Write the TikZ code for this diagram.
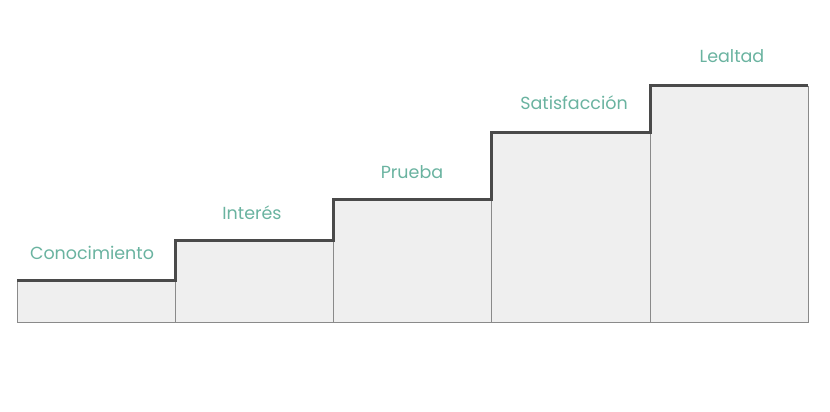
\documentclass[tikz,border=0pt]{standalone}
\usepackage{fontspec}
\setmainfont{Poppins}
\definecolor{teal1}{HTML}{6AB3A0}
\definecolor{boxfill}{HTML}{EFEFEF}
\definecolor{boxline}{HTML}{8A8A8A}
\definecolor{stepline}{HTML}{4A4A4A}
\begin{document}
\begin{tikzpicture}[x=1pt,y=1pt,
  stair/.style={draw=boxline,fill=boxfill,line width=0.8pt},
  lbl/.style={text=teal1,font=\fontsize{17.5}{20}\selectfont,inner sep=0pt},
  edge/.style={draw=stepline,line width=3pt,line cap=butt,line join=miter}]
\useasboundingbox (0,0) rectangle (830,412);
% boxes (y = 412 - pixel y)
\draw[stair] (17,90) rectangle (175,131);
\draw[stair] (175,90) rectangle (333,171);
\draw[stair] (333,90) rectangle (491,212);
\draw[stair] (491,90) rectangle (650,279);
\draw[stair] (650,90) rectangle (808,326);
% step outline
\coordinate (s0) at (17,131);
\coordinate (s1) at (175,131);
\coordinate (s2) at (175,171);
\coordinate (s3) at (333,171);
\coordinate (s4) at (333,212);
\coordinate (s5) at (491,212);
\coordinate (s6) at (491,279);
\coordinate (s7) at (650,279);
\coordinate (s8) at (650,326);
\coordinate (s9) at (808,326);
\draw[edge] (s0) -- (s1) -- (s2) -- (s3) -- (s4) -- (s5) -- (s6) -- (s7) -- (s8) -- (s9);
% labels
\node[lbl] (l1) at (92,159) {Conocimiento};
\node[lbl] (l2) at (252,199) {Interés};
\node[lbl] (l3) at (412,240) {Prueba};
\node[lbl] (l4) at (574,309) {Satisfacción};
\node[lbl] (l5) at (732,356) {Lealtad};
\end{tikzpicture}
\end{document}
